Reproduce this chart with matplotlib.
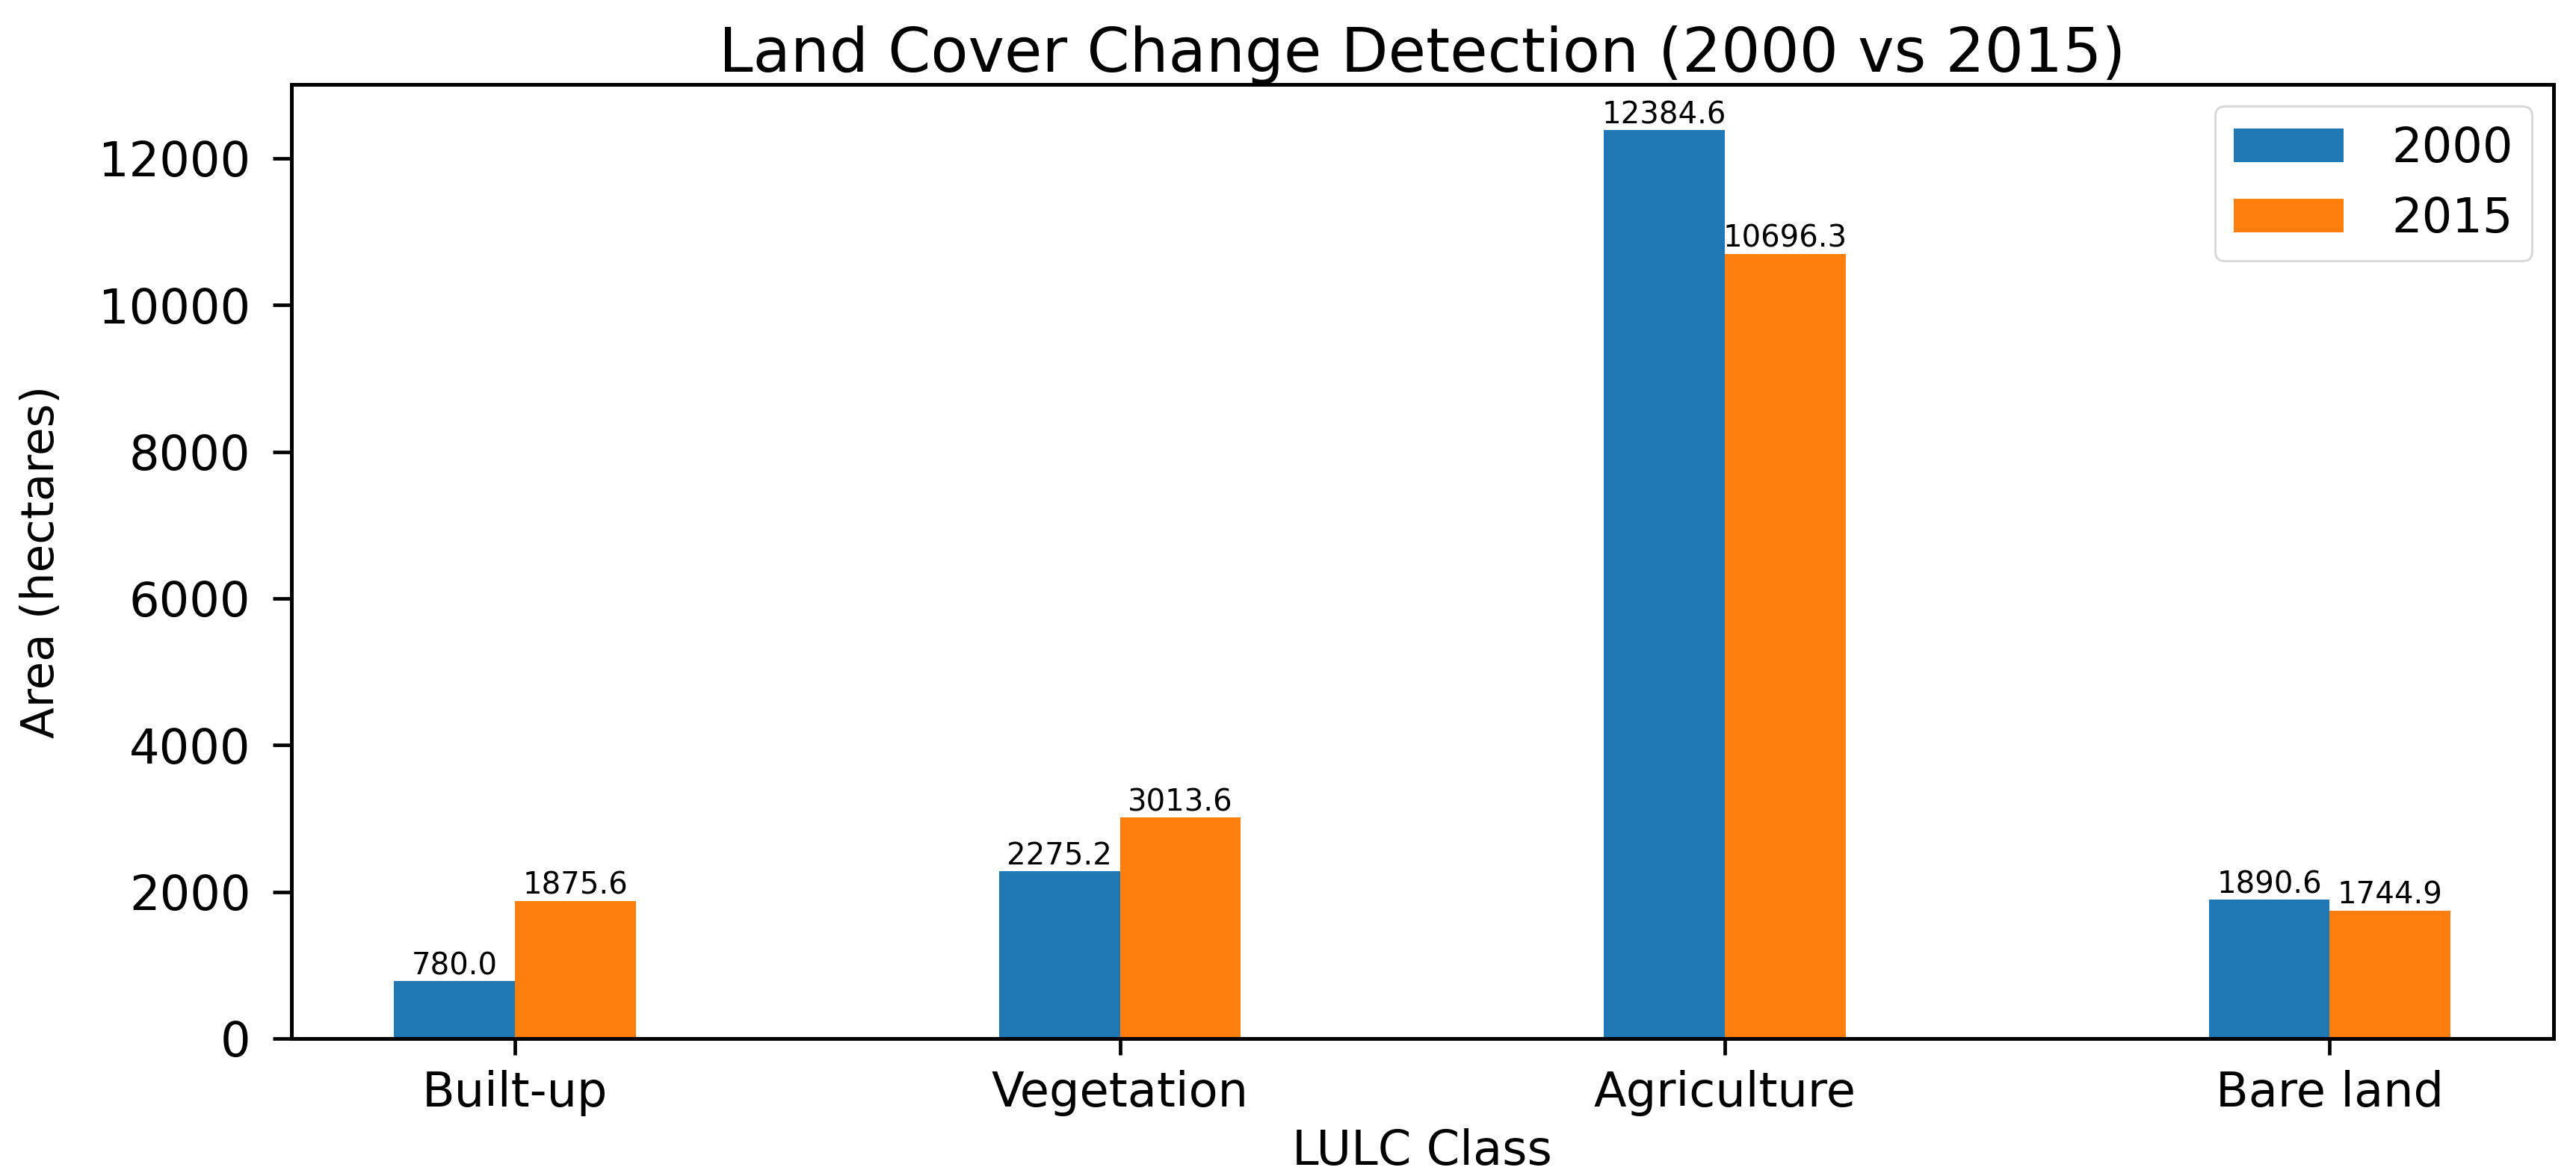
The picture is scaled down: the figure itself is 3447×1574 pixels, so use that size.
import numpy as np
import matplotlib
matplotlib.use("Agg")
import matplotlib.pyplot as plt

classes = ["Built-up", "Vegetation", "Agriculture", "Bare land"]
area_2000 = [780.0, 2275.2, 12384.6, 1890.6]
area_2015 = [1875.6, 3013.6, 10696.3, 1744.9]

x = np.arange(len(classes))
width = 0.2

fig, ax = plt.subplots(figsize=(17.24, 7.87), dpi=200)
fig.subplots_adjust(left=0.113, right=0.991, top=0.928, bottom=0.117)

b1 = ax.bar(x - width / 2, area_2000, width, label="2000", color="#1f77b4")
b2 = ax.bar(x + width / 2, area_2015, width, label="2015", color="#ff7f0e")

# value labels on top of bars
for bars in (b1, b2):
    for rect in bars:
        h = rect.get_height()
        ax.text(rect.get_x() + rect.get_width() / 2, h, f"{h:.1f}",
                ha="center", va="bottom", fontsize=14.5)

ax.set_xticks(x)
ax.set_xticklabels(classes)
ax.tick_params(axis="x", labelsize=23, width=1.7, length=8, pad=7)
ax.tick_params(axis="y", labelsize=23, width=1.7, length=9, pad=10.5)
for s in ax.spines.values():
    s.set_linewidth(1.8)

ax.set_xlabel("LULC Class", fontsize=23, labelpad=6)
ax.set_ylabel("Area (hectares)", fontsize=22, labelpad=17)
ax.set_title("Land Cover Change Detection (2000 vs 2015)", fontsize=29.5)
ax.legend(fontsize=23, loc="upper right", handlelength=2.3, handletextpad=1.0,
          borderaxespad=0.45)

fig.savefig("out.png", dpi=200)
